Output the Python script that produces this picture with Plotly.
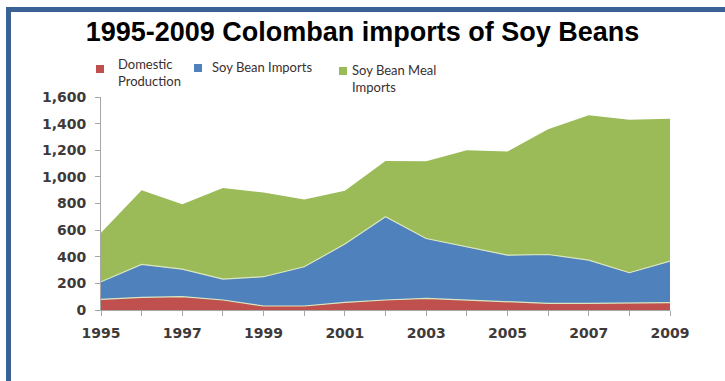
import plotly.graph_objects as go

years = list(range(1995, 2010))
year_labels = [str(y) if y % 2 == 1 else "" for y in years]
series_names = ["Domestic<br>Production", "Soy Bean Imports", "Soy Bean Meal<br>Imports"]
domestic = [80, 95, 100, 75, 30, 30, 57, 75, 87, 75, 60, 50, 50, 55, 55]
soy_imports = [132, 247, 207, 157, 220, 295, 438, 625, 450, 400, 352, 367, 325, 225, 312]
meal_imports = [368, 558, 488, 685, 632, 505, 400, 420, 580, 725, 778, 940, 1087, 1150, 1070]
colors = ["#C0504D", "#4F81BD", "#9BBB59"]

W, H = 725, 381
ML, MR, MT, MB = 101, 55, 97, 71
PW, PH = W - ML - MR, H - MT - MB

def px(x):
    return (x - ML) / PW

def py(y):
    return (H - MB - y) / PH

fig = go.Figure()
for vals, c, n in zip([domestic, soy_imports, meal_imports], colors, series_names):
    fig.add_trace(go.Scatter(
        x=years, y=vals, stackgroup="one", mode="lines",
        line=dict(width=1.2 if c != colors[2] else 0, color="#d9e6bf"),
        fillcolor=c, name=n, showlegend=False, hoverinfo="skip"))

axis_font = dict(family="DejaVu Sans", size=14, color="#3f3a3a", weight="bold")
fig.update_layout(
    width=W, height=H,
    margin=dict(l=ML, r=MR, t=MT, b=MB),
    paper_bgcolor="white", plot_bgcolor="white",
    title=dict(text="<b>1995-2009 Colomban imports of Soy Beans</b>",
               x=0.5, xref="container", xanchor="center",
               y=1 - 32 / H, yref="container", yanchor="middle",
               font=dict(family="Liberation Sans", size=27, color="black")),
    xaxis=dict(range=[1995, 2009], tickvals=years, ticktext=year_labels,
               showgrid=False, zeroline=False, showline=True, linecolor="#a6a6a6",
               linewidth=1, ticks="outside", ticklen=5, tickcolor="#a6a6a6",
               tickfont=axis_font, tickangle=0, ticklabelstandoff=5),
    yaxis=dict(range=[0, 1600], dtick=200, tickformat=",d",
               showgrid=False, zeroline=False, showline=True, linecolor="#a6a6a6",
               linewidth=1, ticks="outside", ticklen=5, tickcolor="#a6a6a6",
               tickfont=axis_font, ticklabelstandoff=6),
)

# frame
fig.add_shape(type="rect", xref="paper", yref="paper",
              x0=px(8.5), x1=px(900), y0=py(9.5), y1=py(600),
              line=dict(color="#3c6194", width=5), layer="above")

# manual legend
leg_font = dict(family="Lato", size=13, color="#3a2f2f")
sq = [(96, 65), (194, 64), (339, 67)]
txt = [(116, 72), (210, 67), (350, 78)]
for (sx, sy), (tx, ty), c, n in zip(sq, txt, colors, series_names):
    fig.add_shape(type="rect", xref="paper", yref="paper",
                  x0=px(sx), x1=px(sx + 8), y0=py(sy), y1=py(sy + 8),
                  fillcolor=c, line=dict(width=0))
    fig.add_annotation(text=n, xref="paper", yref="paper", x=px(tx), y=py(ty),
                       xanchor="left", yanchor="middle", align="left",
                       showarrow=False, font=leg_font)

fig.write_html("out.html")
